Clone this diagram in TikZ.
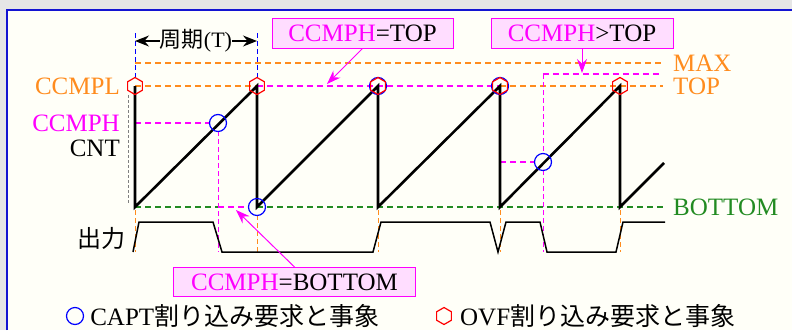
\documentclass[tikz,border=0pt]{standalone}
\usepackage{fontspec}
\setmainfont{Liberation Serif}
\newfontfamily\jpfont{Noto Sans CJK JP}
\usetikzlibrary{positioning,arrows.meta,shapes.geometric}
\definecolor{framegray}{RGB}{230,230,230}
\definecolor{framepaper}{RGB}{255,255,248}
\definecolor{frameblue}{RGB}{20,20,210}
\definecolor{levelorange}{RGB}{255,140,30}
\definecolor{ccmphpink}{RGB}{255,0,255}
\definecolor{calloutfill}{RGB}{255,221,255}
\definecolor{bottomgreen}{RGB}{34,139,34}
\newcommand{\lbl}{\fontsize{25}{30}\selectfont}

\begin{document}
\begin{tikzpicture}[x=1pt,y=-1pt,
  every node/.style={font=\lbl, inner sep=0pt},
  ovf/.style={draw=red, regular polygon, regular polygon sides=6,
    shape border rotate=90, minimum size=17pt, line width=1.2pt},
  capt/.style={draw=blue, circle, minimum size=17pt, line width=1.2pt},
  callout/.style={draw=ccmphpink, fill=calloutfill, line width=1pt,
    minimum height=30pt},
  lvl/.style={dash pattern=on 6pt off 4pt, line width=1.2pt},
  guide/.style={dash pattern=on 5pt off 3pt, line width=0.9pt},
  arr/.style={-{Stealth[length=14pt,width=10pt]}, line width=1pt, ccmphpink},
  parr/.style={-{Stealth[length=14pt,width=11pt]}, line width=1.2pt},
  saw/.style={line width=2.6pt, line join=miter},
  wave/.style={line width=1.5pt},
]
\useasboundingbox (0,0) rectangle (792,330);
\fill[framegray] (0,0) rectangle (792,330);
\fill[framepaper] (7,10) rectangle (792,330);
\draw[frameblue, line width=1.6pt] (7,330) -- (7,10) -- (792,10);

% level lines
\draw[lvl, levelorange] (135,63) -- (663,63);
\draw[lvl, levelorange] (135,86) -- (257,86);
\draw[lvl, ccmphpink]   (257,86) -- (500,86);
\draw[lvl, levelorange] (500,86) -- (663,86);
\draw[lvl, bottomgreen] (135,207) -- (218,207);
\draw[lvl, ccmphpink]   (218,207) -- (249,207);
\draw[lvl, bottomgreen] (257,207) -- (663,207);
\draw[lvl, ccmphpink]   (135,123) -- (210,123);
\draw[lvl, ccmphpink]   (500,162) -- (535,162);
\draw[lvl, ccmphpink]   (543,74) -- (660,74);

% guides
\draw[guide, gray, dash pattern=on 3pt off 2pt] (128,95) -- (128,203);
\draw[guide, blue] (135,33) -- (135,80);
\draw[guide, blue] (257,33) -- (257,80);
\draw[guide, ccmphpink] (218,131) -- (218,252);
\draw[guide, ccmphpink] (543,74) -- (543,154);
\draw[guide, ccmphpink] (543,170) -- (543,252);
\draw[guide, levelorange] (135,210) -- (135,252);
\draw[guide, levelorange] (257,215) -- (257,252);
\draw[guide, levelorange] (378,210) -- (378,252);
\draw[guide, levelorange] (500,210) -- (500,252);
\draw[guide, levelorange] (620,210) -- (620,252);

% counter and output
\draw[saw] (135,86) -- (135,207) -- (257,86) -- (257,207) -- (378,86)
  -- (378,207) -- (500,86) -- (500,207) -- (620,86) -- (620,207) -- (664,163);
\draw[wave] (133,252) -- (139,222) -- (213,222) -- (222,252) -- (373,252)
  -- (381,222) -- (490,222) -- (498,252) -- (506,222) -- (540,222)
  -- (547,252) -- (616,252) -- (623,222) -- (665,222);

% events
\node[ovf]  at (135,86) (ovf1) {};
\node[ovf]  at (257,86) (ovf2) {};
\node[capt] at (378,86) (capt3) {};
\node[ovf]  at (378,86) (ovf3) {};
\node[capt] at (500,86) (capt4) {};
\node[ovf]  at (500,86) (ovf4) {};
\node[ovf]  at (620,86) (ovf5) {};
\node[capt] at (218,123) (capt1) {};
\node[capt] at (257,207) (capt2) {};
\node[capt] at (543,162) (capt5) {};

% labels
\node[anchor=east, levelorange] at (120,86)  (lCCMPL) {CCMPL};
\node[anchor=east, ccmphpink]   at (120,123) (lCCMPH) {CCMPH};
\node[anchor=east]              at (120,148) (lCNT)   {CNT};
\node[anchor=east, font=\fontsize{24}{28}\jpfont] at (126,238) (lout) {出力};
\node[anchor=west, levelorange] at (673,63)  (lMAX) {MAX};
\node[anchor=west, levelorange] at (673,86)  (lTOP) {TOP};
\node[anchor=west, bottomgreen] at (673,207) (lBOTTOM) {BOTTOM};

% period
\node[font=\fontsize{22}{26}\selectfont] at (196,41) (period) {{\jpfont 周期}(T)};
\coordinate (pL) at (135,41);
\coordinate (pR) at (257,41);
\draw[parr] (period.west) -- (pL);
\draw[parr] (period.east) -- (pR);

% callouts
\node[callout, minimum width=181pt] at (362.5,33) (eqtop) {{\color{ccmphpink}CCMPH}=TOP};
\node[callout, minimum width=182pt] at (582,33) (gttop) {{\color{ccmphpink}CCMPH}>TOP};
\node[callout, minimum width=242pt, minimum height=29pt] at (294.5,282) (eqbot) {{\color{ccmphpink}CCMPH}=BOTTOM};
\coordinate (tEqTop) at (327,84);
\coordinate (tGtTop) at (582,73);
\coordinate (tEqBot) at (236,210);
\draw[arr] (eqtop.south) -- (tEqTop);
\draw[arr] (gttop.south) -- (tGtTop);
\draw[arr] (eqbot.north) -- (tEqBot);

% legend
\node[capt] at (75,316) (legcapt) {};
\node[anchor=west, right=6pt of legcapt] (legcapttxt) {CAPT{\jpfont 割り込み要求と事象}};
\node[ovf] at (444,316) (legovf) {};
\node[anchor=west, right=8pt of legovf] (legovftxt) {OVF{\jpfont 割り込み要求と事象}};
\end{tikzpicture}
\end{document}
